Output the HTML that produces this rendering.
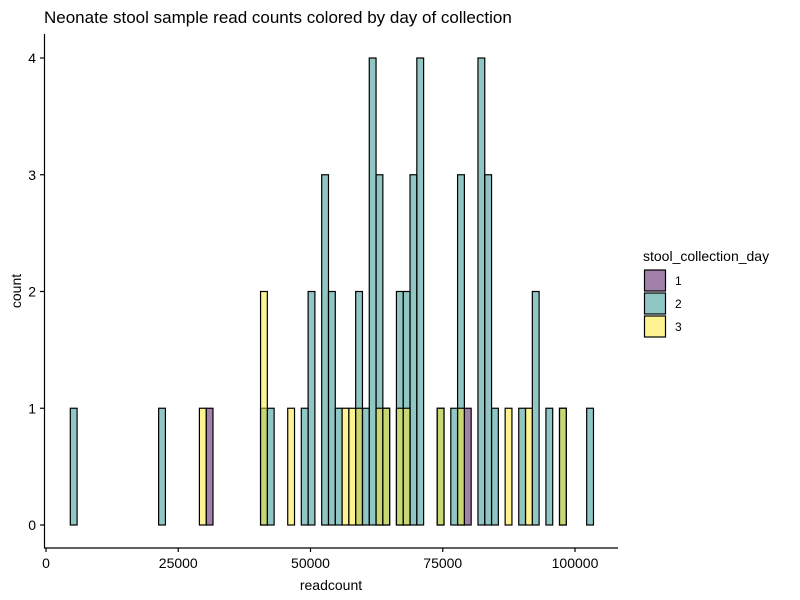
<!DOCTYPE html>
<html><head><meta charset="utf-8"><style>
body{margin:0;background:#fff}
svg{display:block;font-family:"Liberation Sans",Arial,sans-serif}
</style></head><body>
<svg id="chart" width="800" height="600" viewBox="0 0 800 600">
<rect width="800" height="600" fill="#fff"/>
<text x="44" y="23" font-size="17" fill="#000">Neonate stool sample read counts colored by day of collection</text>
<g id="bars"></g>
<g id="axes"></g>
<g id="legend">
<text x="643" y="261" font-size="14" fill="#000">stool_collection_day</text>
</g>
</svg>
<script>
const day1 = [0,0,0,0,0,0,0,0,0,0,0,0,0,0,0,0,0,0,0,0,1,0,0,0,0,0,0,0,0,0,0,0,0,0,0,0,0,0,0,0,0,0,0,0,0,0,0,0,0,0,0,0,0,0,0,0,0,0,1,0,0,0,0,0,0,0,0,0,0,0,0,0,0,0,0,0,0];
const day2 = [1,0,0,0,0,0,0,0,0,0,0,0,0,1,0,0,0,0,0,0,0,0,0,0,0,0,0,0,1,1,0,0,0,0,1,2,0,3,2,1,0,0,2,1,4,3,1,0,2,2,3,4,0,0,1,0,1,3,0,0,4,3,1,0,0,0,1,0,2,0,1,0,1,0,0,0,1];
const day3 = [0,0,0,0,0,0,0,0,0,0,0,0,0,0,0,0,0,0,0,1,0,0,0,0,0,0,0,0,2,0,0,0,1,0,0,0,0,0,0,0,1,1,1,0,0,1,1,0,1,1,0,0,0,0,1,0,0,1,0,0,0,0,0,0,1,0,0,1,0,0,0,0,1,0,0,0,0];
const groups = ["1","2","3"];
const groupColors = ["rgba(68,1,84,0.5)","rgba(33,144,140,0.5)","rgba(253,231,37,0.5)"];
const xTicks = [0,25000,50000,75000,100000];
const yTicks = [0,1,2,3,4];
const binStart = 4594;
const binWidth = 1284.4;

const NS = "http://www.w3.org/2000/svg";
const xS = v => 46 + v * 529 / 100000;
const yS = v => 525 - v * 116.75;
function mk(tag, attrs, parent){const e=document.createElementNS(NS,tag);for(const k in attrs)e.setAttribute(k,attrs[k]);parent.appendChild(e);return e;}
const bars = document.getElementById('bars');
[day1,day2,day3].forEach((series,g)=>{
  series.forEach((c,i)=>{
    const x0 = xS(binStart + i*binWidth), x1 = xS(binStart + (i+1)*binWidth);
    const r = mk('rect',{x:x0,y:yS(c),width:x1-x0,height:yS(0)-yS(c),fill:groupColors[g],stroke:'#000','stroke-width':1.2},bars);
    
    
  });
});
const axes = document.getElementById('axes');
let l = mk('line',{x1:44.5,y1:34,x2:44.5,y2:548,stroke:'#000','stroke-width':1.2},axes);


l = mk('line',{x1:44,y1:548,x2:618,y2:548,stroke:'#000','stroke-width':1.2},axes);


yTicks.forEach(t=>{
  const y=yS(t);
  const tk=mk('line',{x1:40,y1:y,x2:44.5,y2:y,stroke:'#000','stroke-width':1.2},axes);
  
  
  const tx=mk('text',{x:36,y:y+5,'font-size':14,'text-anchor':'end',fill:'#000'},axes);
  tx.textContent=t;
  
  
});
xTicks.forEach(t=>{
  const x=xS(t);
  const tk=mk('line',{x1:x,y1:548,x2:x,y2:552,stroke:'#000','stroke-width':1.2},axes);
  
  
  const tx=mk('text',{x:x,y:568,'font-size':14,'text-anchor':'middle',fill:'#000'},axes);
  tx.textContent=t;
  
  
});
let at=mk('text',{x:331,y:590,'font-size':14,'text-anchor':'middle',fill:'#000'},axes);
at.textContent='readcount';


at=mk('text',{x:21,y:291,'font-size':14,'text-anchor':'middle',fill:'#000',transform:'rotate(-90 21 291)'},axes);
at.textContent='count';


const legend=document.getElementById('legend');
groups.forEach((g,i)=>{
  const y=270+i*23;
  const r=mk('rect',{x:644.5,y:y,width:21,height:21,fill:groupColors[i],stroke:'#000','stroke-width':1.2},legend);
  
  
  const t=mk('text',{x:675,y:y+15,'font-size':12,fill:'#000'},legend);
  t.textContent=g;
  
  
});
</script>
</body></html>
